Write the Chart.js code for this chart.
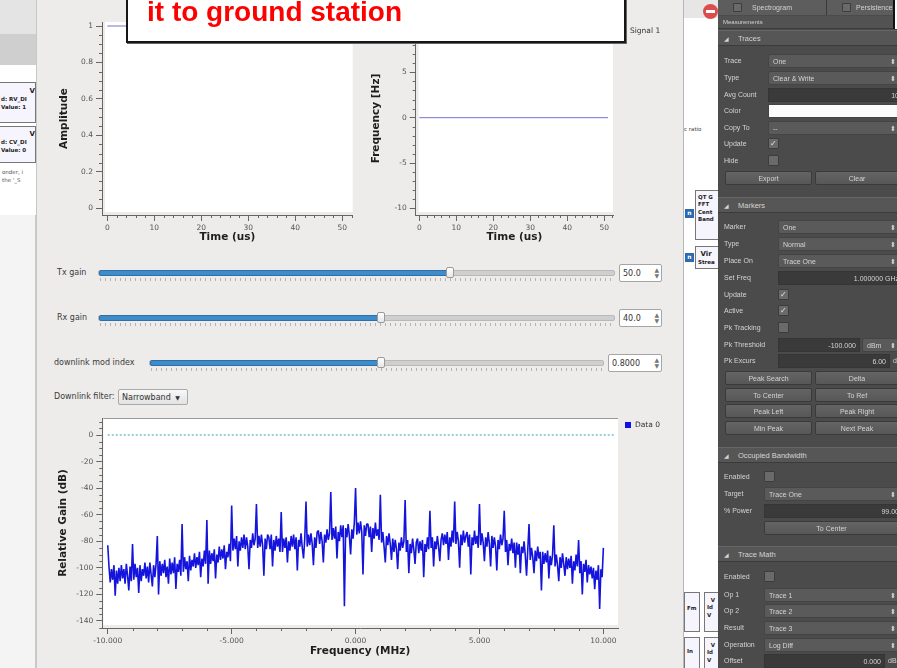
<!DOCTYPE html>
<html>
<head>
<meta charset="utf-8">
<title>Downlink GUI</title>
<script src="https://cdn.jsdelivr.net/npm/chart.js@4.4.1/dist/chart.umd.min.js"></script>
<style>
  html, body { margin: 0; padding: 0; }
  body { width: 897px; height: 668px; position: relative; overflow: hidden; background: #edecea; font-family: "DejaVu Sans", sans-serif; }
  canvas { position: absolute; }
  .a { position: absolute; white-space: nowrap; line-height: 1; box-sizing: border-box; }
  .lbl { font-size: 8px; color: #3a3a3a; }
  .track { height: 4px; background: #cfcfcf; border: 1px solid #b9b9b9; border-radius: 2px; }
  .fill { position: absolute; left: 0; top: -1px; height: 4px; background: #3f8ccb; border: 1px solid #2f6fa6; border-radius: 2px; }
  .handle { width: 8px; height: 11px; background: linear-gradient(#ffffff, #e6e6e6); border: 1px solid #9a9a9a; border-radius: 2px; }
  .sticks { height: 3px; background: repeating-linear-gradient(90deg, #b4b4b4 0 1px, transparent 1px 5px); }
  .spin { height: 18px; background: #fff; border: 1px solid #a5a5a5; border-radius: 2px; font-size: 8px; color: #333; padding: 5px 0 0 3px; }
  .spin span { position: absolute; right: 2px; top: 2px; font-size: 6px; line-height: 6px; color: #777; text-align: center; }
  .combo { height: 16px; background: linear-gradient(#f8f8f8, #e2e2e2); border: 1px solid #aaa; border-radius: 2px; font-size: 8px; color: #333; padding: 4px 0 0 3px; }
  #panel { position: absolute; left: 718px; top: 0; width: 179px; height: 668px; background: #4b4b4b; overflow: hidden; }
  .p { position: absolute; white-space: nowrap; line-height: 1; box-sizing: border-box; font-size: 7px; color: #d4d4d4; font-family: "Liberation Sans", sans-serif; }
  .pcombo { background: #5a5a5a; border: 1px solid #444; border-radius: 2px; padding: 3px 0 0 4px; }
  .pedit { background: #3a3a3a; border: 1px solid #353535; padding: 3px 3px 0 0; text-align: right; }
  .pwhite { background: #fbfbfb; border: 1px solid #444; }
  .pcheck { background: #6a6a6a; border: 1px solid #3c3c3c; border-radius: 1px; text-align: center; font-size: 8px; padding-top: 1px; color: #e2e2e2; }
  .pbtn { background: linear-gradient(#646464, #575757); border: 1px solid #3a3a3a; border-radius: 2px; text-align: center; padding-top: 3px; }
  .phead { background: #565656; border-top: 1px solid #666; border-bottom: 1px solid #3b3b3b; padding: 4px 0 0 6px; font-size: 7.5px; }
  .blk { background: #f6f5fd; border: 1px solid #777; font-size: 5.5px; color: #222; font-weight: bold; overflow: hidden; line-height: 1.35; padding: 1px 0 0 2px; }
  .port { background: #2d6bb0; color: #fff; font-size: 6px; font-weight: bold; text-align: center; padding-top: 1px; }
</style>
</head>
<body>

<!-- Hintergrund links (Flowgraph) -->
<div class="a" style="left:0;top:0;width:37px;height:668px;background:#f4f4f4;border-right:2px solid #c8c8c8"></div>
<div class="a" style="left:0;top:0;width:36px;height:34px;background:#e4e4e4"></div>
<div class="a" style="left:0;top:34px;width:36px;height:31px;background:#cfcfcf"></div>
<div class="a" style="left:0;top:65px;width:36px;height:150px;background:#ffffff"></div>
<div class="a blk" style="left:-2px;top:82px;width:38px;height:41px;padding-top:4px">
  <div style="text-align:right;font-size:7px">V</div>d: RV_DI<br>Value: 1</div>
<div class="a blk" style="left:-2px;top:126px;width:38px;height:37px;padding-top:3px">
  <div style="text-align:right;font-size:7px">V</div>d: CV_DI<br>Value: 0</div>
<div class="a" style="left:2px;top:168px;font-size:5.5px;color:#555;line-height:1.5">onder, i<br>the '_S</div>

<!-- Hintergrund rechts (Flowgraph) -->
<div class="a" style="left:683px;top:0;width:35px;height:668px;background:#fff;border-left:1px solid #b8b8b8"></div>
<div class="a" style="left:684px;top:0;width:34px;height:18px;background:#e6e6e6"></div>
<div class="a" style="left:703px;top:4px;width:15px;height:15px;border-radius:50%;background:#dc4c4c"></div>
<div class="a" style="left:706px;top:10px;width:9px;height:3px;background:#fff"></div>
<div class="a" style="left:684px;top:127px;font-size:5.5px;color:#444">c ratio</div>
<div class="a blk" style="left:695px;top:190px;width:26px;height:50px;padding-top:3px">QT G<br>FFT<br>Cent<br>Band</div>
<div class="a port" style="left:685px;top:209px;width:9px;height:9px">n</div>
<div class="a blk" style="left:695px;top:246px;width:26px;height:23px;padding-top:3px"><span style="font-size:7px">&nbsp;Vir</span><br>Strea</div>
<div class="a port" style="left:685px;top:253px;width:9px;height:9px">n</div>
<div class="a blk" style="left:684px;top:592px;width:16px;height:40px;padding-top:12px">Fm</div>
<div class="a blk" style="left:704px;top:592px;width:17px;height:40px;padding-top:4px">&nbsp;&nbsp;V<br>Id<br>V</div>
<div class="a blk" style="left:684px;top:637px;width:16px;height:34px;padding-top:10px">In</div>
<div class="a blk" style="left:704px;top:637px;width:17px;height:34px;padding-top:4px">&nbsp;&nbsp;V<br>Id<br>V</div>

<!-- Diagramme -->
<canvas id="ampChart" width="320" height="250" style="left:40px;top:0"></canvas>
<canvas id="freqChart" width="300" height="250" style="left:360px;top:0"></canvas>
<canvas id="specChart" width="600" height="263" style="left:40px;top:405px"></canvas>

<div class="a" style="left:630px;top:27px;font-size:7.5px;color:#333">Signal 1</div>
<div class="a" style="left:625px;top:422px;width:6px;height:6px;background:#1010e8"></div>
<div class="a" style="left:635px;top:421px;font-size:7.5px;color:#333">Data 0</div>

<!-- Regler -->
<div id="sliders"></div>
<div class="a lbl" style="left:54px;top:393px">Downlink filter:</div>
<div class="a combo" style="left:118px;top:389px;width:70px">Narrowband <span style="font-size:6px;margin-left:2px">▼</span></div>

<!-- Messungs-Panel -->
<div id="panel"></div>

<!-- Sprechblase -->
<div class="a" style="left:126px;top:-40px;width:500px;height:83px;background:#fff;border:2px solid #161616;box-shadow:1px 1px 0 #666;z-index:10"></div>
<div class="a" style="left:147px;top:-2px;font:bold 28px/28px 'Liberation Sans',sans-serif;color:#ff0000;z-index:11">it to ground station</div>
<div class="a" style="left:893px;top:-5px;width:10px;height:34px;background:#fff;border-left:2px solid #111;z-index:11"></div>

<script>
// ---- Daten ----
// obere Plots: Zeitbereich
const TIME_US = [0, 51];
const AMPLITUDE = [1, 1];
const INST_FREQ_HZ = [0, 0];

const TIME_TICKS = [0, 10, 20, 30, 40, 50];
const AMP_TICKS = [0, 0.2, 0.4, 0.6, 0.8, 1];
const AMP_TICK_LABELS = ['0', '0.2', '0.4', '0.6', '0.8', '1'];
const HZ_TICKS = [-10, -5, 0, 5, 10];

// unterer Plot: Spektrum, FFT-Bins von -10 MHz in 0.05 MHz Schritten
const FREQ_START_MHZ = -10;
const FREQ_STEP_MHZ = 0.05;
const FREQ_TICKS = [-10, -5, 0, 5, 10];
const FREQ_TICK_LABELS = ['-10.000', '-5.000', '0.000', '5.000', '10.000'];
const GAIN_TICKS = [-140, -120, -100, -80, -60, -40, -20, 0];

const SPECTRUM_DB = [
  -83, -99, -111, -101, -109, -98, -121, -102, -112, -100,     // -10.00
  -110, -98, -108, -101, -112, -97, -106, -117, -99, -110,     // -9.50
  -82, -109, -97, -107, -100, -119, -98, -110, -101, -106,     // -9.00
  -96, -108, -99, -111, -96, -105, -114, -98, -107, -97,       // -8.50
  -76, -120, -95, -106, -97, -104, -94, -107, -99, -112,       // -8.00
  -93, -105, -96, -104, -92, -116, -97, -103, -94, -106,       // -7.50
  -67, -103, -92, -101, -95, -110, -91, -102, -94, -99,        // -7.00
  -89, -100, -92, -98, -88, -107, -93, -99, -87, -97,          // -6.50
  -64, -112, -87, -97, -89, -95, -86, -108, -90, -96,          // -6.00
  -84, -94, -86, -93, -83, -101, -88, -92, -82, -95,           // -5.50
  -53, -87, -78, -86, -76, -99, -80, -87, -77, -85,            // -5.00
  -75, -86, -77, -84, -101, -79, -85, -74, -83, -78,           // -4.50
  -52, -85, -76, -84, -75, -83, -106, -78, -86, -75,           // -4.00
  -77, -86, -75, -99, -79, -87, -76, -84, -78, -88,            // -3.50
  -58, -88, -78, -85, -77, -96, -80, -87, -76, -84,            // -3.00
  -75, -86, -77, -102, -79, -84, -74, -85, -93, -78,           // -2.50
  -50, -84, -75, -83, -74, -82, -98, -77, -85, -73,            // -2.00
  -72, -82, -73, -80, -96, -75, -81, -71, -79, -74,            // -1.50
  -43, -79, -70, -78, -69, -93, -73, -80, -68, -77,            // -1.00
  -68, -129, -70, -77, -67, -76, -90, -71, -78, -66,           // -0.50
  -40, -75, -66, -74, -65, -73, -105, -68, -76, -67,           //  0.00
  -67, -77, -69, -88, -70, -78, -66, -76, -71, -79,            //  0.50
  -45, -81, -73, -84, -96, -76, -83, -74, -82, -94,            //  1.00
  -78, -88, -79, -86, -101, -81, -87, -77, -85, -80,           //  1.50
  -49, -88, -79, -104, -82, -89, -78, -86, -97, -81,           //  2.00
  -78, -89, -80, -87, -79, -107, -82, -88, -77, -86,           //  2.50
  -57, -85, -77, -99, -80, -86, -76, -84, -95, -79,            //  3.00
  -74, -83, -75, -82, -73, -94, -77, -84, -72, -81,            //  3.50
  -50, -82, -73, -80, -100, -75, -83, -72, -81, -76,           //  4.00
  -73, -84, -75, -105, -77, -83, -72, -82, -76, -85,           //  4.50
  -52, -83, -74, -81, -95, -77, -84, -73, -82, -99,            //  5.00
  -76, -85, -77, -84, -102, -79, -86, -75, -83, -78,           //  5.50
  -57, -88, -79, -98, -82, -87, -78, -89, -81, -100,           //  6.00
  -81, -90, -82, -104, -84, -89, -80, -91, -106, -86,          //  6.50
  -67, -94, -85, -92, -104, -87, -95, -84, -93, -88,           //  7.00
  -117, -88, -97, -89, -96, -87, -108, -91, -98, -90,          //  7.50
  -68, -99, -90, -98, -110, -92, -100, -89, -97, -106,         //  8.00
  -92, -101, -93, -100, -91, -112, -95, -102, -90, -99,        //  8.50
  -79, -104, -95, -120, -97, -103, -94, -111, -98, -105,       //  9.00
  -99, -108, -100, -116, -102, -109, -98, -131, -101, -107,    //  9.50
  -85                                                          // 10.00
];
// gestrichelte Referenzlinie bei 0 dB
const REF_LINE_MHZ = [-10, 10.45];
const REF_LINE_DB = [0, 0];

// ---- Plugins ----
// weisse Plotflaeche, etwas eingerueckt wie bei Qwt
const plotBg = {
  id: 'plotBg',
  beforeDraw(chart, args, opts) {
    const a = chart.chartArea, ctx = chart.ctx;
    ctx.save();
    ctx.fillStyle = '#ffffff';
    ctx.fillRect(a.left + opts.inset[0], a.top, a.right - a.left - opts.inset[0], a.bottom - a.top - opts.inset[1]);
    if (opts.topLine) {
      ctx.fillStyle = '#9a9a9a';
      ctx.fillRect(a.left + opts.inset[0], a.top, a.right - a.left - opts.inset[0], 1);
    }
    ctx.restore();
  }
};

// kleine Zwischenstriche an den Achsen
const minorTicks = {
  id: 'minorTicks',
  afterDraw(chart, args, opts) {
    const ctx = chart.ctx;
    ctx.save();
    ctx.strokeStyle = '#666';
    ctx.lineWidth = 1;
    ['x', 'y'].forEach(id => {
      const step = opts[id];
      if (!step) return;
      const s = chart.scales[id];
      const majors = s.ticks.map(t => t.value);
      for (let v = Math.ceil(s.min / step) * step; v <= s.max + 1e-9; v += step) {
        if (majors.some(m => Math.abs(m - v) < step / 10)) continue;
        const p = Math.round(s.getPixelForValue(v)) + 0.5;
        ctx.beginPath();
        if (id === 'x') { ctx.moveTo(p, s.top); ctx.lineTo(p, s.top + 3); }
        else { ctx.moveTo(s.right, p); ctx.lineTo(s.right - 3, p); }
        ctx.stroke();
      }
    });
    ctx.restore();
  }
};

Chart.defaults.font.family = 'DejaVu Sans';

function makeAxis(cfg) {
  return {
    type: 'linear',
    min: cfg.min,
    max: cfg.max,
    grid: { drawOnChartArea: false, tickLength: 6, tickColor: '#666', tickWidth: 1 },
    border: { display: true, color: '#666', width: 1 },
    ticks: {
      color: '#555', font: { size: 7.5 }, padding: 3, maxRotation: 0, autoSkip: false,
      callback: (v, i) => cfg.labels ? cfg.labels[i] : String(v)
    },
    afterBuildTicks: s => { s.ticks = cfg.ticks.map(v => ({ value: v })); },
    afterFit: s => {
      if (s.isHorizontal()) s.height = cfg.size; else s.width = cfg.size;
    },
    title: {
      display: true, text: cfg.title, color: '#1e1e1e',
      font: { size: 10.5, weight: 'bold' }, padding: cfg.titlePad
    }
  };
}

function makeChart(id, datasets, x, y, padding, bg, minor) {
  return new Chart(document.getElementById(id), {
    type: 'line',
    data: { datasets: datasets },
    options: {
      responsive: false,
      animation: false,
      devicePixelRatio: 1,
      events: [],
      layout: { padding: padding },
      elements: { point: { radius: 0 }, line: { tension: 0, borderWidth: 1 } },
      plugins: { legend: { display: false }, tooltip: { enabled: false }, plotBg: bg, minorTicks: minor },
      scales: { x: makeAxis(x), y: makeAxis(y) }
    },
    plugins: [plotBg, minorTicks]
  });
}

const toXY = (xs, ys) => xs.map((x, i) => ({ x: x, y: ys[i] }));

// 1. Amplitude
makeChart('ampChart',
  [{ data: toXY(TIME_US, AMPLITUDE), borderColor: '#7272d2' }],
  { min: -1.13, max: 52.2, ticks: TIME_TICKS, title: 'Time (us)', titlePad: { top: 0, bottom: 6.7 }, size: 35 },
  { min: -0.037, max: 1.022, ticks: AMP_TICKS, labels: AMP_TICK_LABELS, title: 'Amplitude', titlePad: { top: 17.7, bottom: 0 }, size: 62 },
  { top: 22, right: 7.3, left: 0, bottom: 0 },
  { inset: [3, 3] },
  { x: 2, y: 0.05 });

// 2. Frequenz
makeChart('freqChart',
  [{ data: toXY(TIME_US, INST_FREQ_HZ), borderColor: '#7272d2' }],
  { min: -0.97, max: 52.35, ticks: TIME_TICKS, title: 'Time (us)', titlePad: { top: 0, bottom: 6.7 }, size: 35 },
  { min: -10.72, max: 10.54, ticks: HZ_TICKS, title: 'Frequency [Hz]', titlePad: { top: 10.4, bottom: 0 }, size: 55.7 },
  { top: 22, right: 47, left: 0, bottom: 0 },
  { inset: [3, 3] },
  { x: 2, y: 1 });

// 3. Spektrum
const specPoints = SPECTRUM_DB.map((v, i) => ({ x: FREQ_START_MHZ + i * FREQ_STEP_MHZ, y: v }));
makeChart('specChart',
  [
    { data: specPoints, borderColor: '#1414dc', borderWidth: 1.6, borderJoinStyle: 'bevel' },
    { data: toXY(REF_LINE_MHZ, REF_LINE_DB), borderColor: '#3aa0b8', borderDash: [2, 2] }
  ],
  { min: -10.22, max: 10.59, ticks: FREQ_TICKS, labels: FREQ_TICK_LABELS, title: 'Frequency (MHz)', titlePad: { top: 0, bottom: 10.7 }, size: 40 },
  { min: -145.3, max: 12.8, ticks: GAIN_TICKS, title: 'Relative Gain (dB)', titlePad: { top: 16.7, bottom: 0 }, size: 62.3 },
  { top: 13, right: 22, left: 0, bottom: 0 },
  { inset: [1, 3], topLine: true },
  { x: 1, y: 5 });

// ---- Regler ----
const SLIDERS = [
  { label: 'Tx gain', lx: 57, y: 273, x0: 98, x1: 615, pos: 450, bx: 619, bw: 43, val: '50.0' },
  { label: 'Rx gain', lx: 57, y: 318, x0: 98, x1: 615, pos: 381, bx: 619, bw: 43, val: '40.0' },
  { label: 'downlink mod index', lx: 54, y: 363, x0: 149, x1: 604, pos: 381, bx: 608, bw: 54, val: '0.8000' }
];

function add(parent, cls, x, y, w, h, text) {
  const d = document.createElement('div');
  d.className = cls;
  d.style.left = x + 'px';
  d.style.top = y + 'px';
  if (w != null) d.style.width = w + 'px';
  if (h != null) d.style.height = h + 'px';
  if (text != null) d.textContent = text;
  parent.appendChild(d);
  return d;
}

const sl = document.getElementById('sliders');
SLIDERS.forEach(s => {
  add(sl, 'a lbl', s.lx, s.y - 4, null, null, s.label);
  const tr = add(sl, 'a track', s.x0, s.y - 3, s.x1 - s.x0, 6);
  add(tr, 'fill', 0, -1, s.pos - s.x0, null);
  add(sl, 'a sticks', s.x0 + 2, s.y + 5, s.x1 - s.x0 - 4, null);
  add(sl, 'a handle', s.pos - 4, s.y - 6, null, null);
  const sp = add(sl, 'a spin', s.bx, s.y - 9, s.bw, null, s.val);
  const ar = document.createElement('span');
  ar.innerHTML = '▲<br>▼';
  sp.appendChild(ar);
});

// ---- Messungs-Panel (rechts) ----
const panel = document.getElementById('panel');
const PX = 718;

add(panel, 'p', 0, 0, 179, 15).style.background = '#5d5d5d';
add(panel, 'p pcheck', 733 - PX, 3, 9, 9);
add(panel, 'p', 752 - PX, 4, null, null, 'Spectrogram');
add(panel, 'p', 826 - PX, 0, 1, 15).style.background = '#3a3a3a';
add(panel, 'p pcheck', 842 - PX, 3, 9, 9);
add(panel, 'p', 856 - PX, 4, null, null, 'Persistence');
const meas = add(panel, 'p', 0, 16, 179, 13, 'Measurements');
meas.style.cssText += 'background:#525252;border-bottom:1px solid #3b3b3b;padding:3px 0 0 5px;font-size:6px';

const PANEL_HEADERS = [[30, 'Traces'], [197, 'Markers'], [447, 'Occupied Bandwidth'], [546, 'Trace Math']];
PANEL_HEADERS.forEach(h => {
  const d = add(panel, 'p phead', 0, h[0], 179, 16);
  d.innerHTML = '<span style="font-size:6px;margin-right:9px">◢</span>' + h[1];
});

const PANEL_ROWS = [
  [61, 'Trace', 'combo', 'One', 768],
  [78, 'Type', 'combo', 'Clear & Write', 768],
  [95, 'Avg Count', 'edit', '10', 768],
  [111, 'Color', 'white', '', 768],
  [128, 'Copy To', 'combo', '--', 768],
  [144, 'Update', 'check', '✓', 768],
  [161, 'Hide', 'check', '', 768],
  [178, '', 'buttons', 'Export|Clear', 725],
  [227, 'Marker', 'combo', 'One', 778],
  [244, 'Type', 'combo', 'Normal', 778],
  [261, 'Place On', 'combo', 'Trace One', 778],
  [278, 'Set Freq', 'edit', '1.000000 GHz', 778],
  [295, 'Update', 'check', '✓', 778],
  [311, 'Active', 'check', '✓', 778],
  [328, 'Pk Tracking', 'check', '', 778],
  [345, 'Pk Threshold', 'unit', '-100.000|dBm|860', 778],
  [361, 'Pk Excurs', 'unit', '6.00|d|890', 778],
  [378, '', 'buttons', 'Peak Search|Delta', 725],
  [395, '', 'buttons', 'To Center|To Ref', 725],
  [411, '', 'buttons', 'Peak Left|Peak Right', 725],
  [428, '', 'buttons', 'Min Peak|Next Peak', 725],
  [477, 'Enabled', 'check', '', 764],
  [494, 'Target', 'combo', 'Trace One', 764],
  [511, '% Power', 'edit', '99.00', 764],
  [528, '', 'button', 'To Center', 764],
  [577, 'Enabled', 'check', '', 764],
  [595, 'Op 1', 'combo', 'Trace 1', 764],
  [611, 'Op 2', 'combo', 'Trace 2', 764],
  [628, 'Result', 'combo', 'Trace 3', 764],
  [645, 'Operation', 'combo', 'Log Diff', 764],
  [661, 'Offset', 'unit', '0.000|dB|885', 764]
];

const RIGHT = 903; // Felder laufen rechts aus dem Panel heraus
PANEL_ROWS.forEach(([y, label, kind, text, x0]) => {
  const top = y - 7;
  if (label) add(panel, 'p', 724 - PX, y - 4, null, null, label);
  if (kind === 'combo') {
    const d = add(panel, 'p pcombo', x0 - PX, top, RIGHT - 4 - x0, 14, text);
    const ar = add(d, 'p', RIGHT - 14 - x0, 3, null, null, '⬍');
    ar.style.fontSize = '7px';
  } else if (kind === 'edit') {
    add(panel, 'p pedit', x0 - PX, top, RIGHT - x0, 14, text);
  } else if (kind === 'white') {
    add(panel, 'p pwhite', x0 - PX, top, RIGHT - x0, 14);
  } else if (kind === 'check') {
    add(panel, 'p pcheck', x0 - PX, y - 6, 11, 11, text);
  } else if (kind === 'buttons') {
    const [l, r] = text.split('|');
    add(panel, 'p pbtn', 725 - PX, top, 87, 14, l);
    add(panel, 'p pbtn', 815 - PX, top, 84, 14, r);
  } else if (kind === 'button') {
    add(panel, 'p pbtn', x0 - PX, top, 899 - x0, 14, text);
  } else if (kind === 'unit') {
    const [v, u, split] = text.split('|');
    add(panel, 'p pedit', x0 - PX, top, +split - x0, 14, v);
    if (u === 'dBm') {
      const d = add(panel, 'p pcombo', +split + 2 - PX, top, 40, 14, u);
      add(d, 'p', 27, 3, null, null, '⬍');
    } else {
      add(panel, 'p', +split + 3 - PX, y - 4, null, null, u);
    }
  }
});
</script>
</body>
</html>
